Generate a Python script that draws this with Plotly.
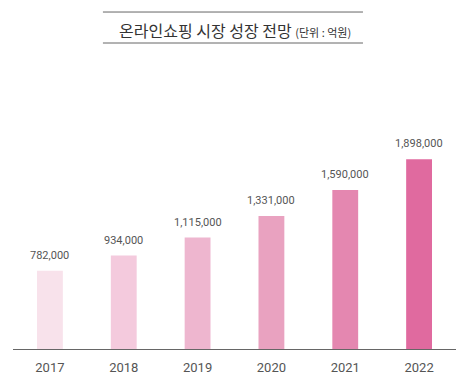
import plotly.graph_objects as go

years = ["2017", "2018", "2019", "2020", "2021", "2022"]
values = [782000, 934000, 1115000, 1331000, 1590000, 1898000]
colors = ["#f8e2eb", "#f4cadd", "#eeb6cf", "#e9a2c0", "#e487b0", "#e06a9f"]
title_main = "온라인쇼핑 시장 성장 전망"
title_unit = "(단위 : 억원)"

fig = go.Figure()
fig.add_trace(go.Bar(
    x=years, y=values, marker=dict(color=colors, line=dict(width=0)),
    width=0.35, hoverinfo="x+y"))

for i, v in enumerate(values):
    fig.add_annotation(x=i, y=v, text=f"{v:,}", showarrow=False,
                       yanchor="bottom", yshift=7,
                       font=dict(family="Roboto, sans-serif", size=11, color="#555555"))

fig.add_annotation(xref="paper", yref="paper", x=0.5, y=1.104, yanchor="middle",
                   showarrow=False,
                   text=f"{title_main} <span style='font-size:11px'>{title_unit}</span>",
                   font=dict(family="Noto Sans CJK KR", size=16, color="#333333"))

for yy in (1.166, 1.0588):
    fig.add_shape(type="line", xref="paper", yref="paper", x0=0.203, x1=0.79,
                  y0=yy, y1=yy, line=dict(color="#666666", width=1))

# page body adds an 8px offset, so the figure is sized to fit the window
fig.update_layout(
    width=462, height=380, margin=dict(l=5, r=14, t=52, b=39, autoexpand=False),
    paper_bgcolor="white", plot_bgcolor="white", showlegend=False,
    xaxis=dict(type="category", range=[-0.5, len(years) - 0.5], showline=True,
               linecolor="#666666", linewidth=1, ticks="", automargin=False,
               ticklabelstandoff=6, showgrid=False,
               tickfont=dict(family="Roboto, sans-serif", size=13, color="#555555")),
    yaxis=dict(range=[0, 2890000], visible=False, showgrid=False, zeroline=False,
               automargin=False),
)

fig.write_html("out.html")
